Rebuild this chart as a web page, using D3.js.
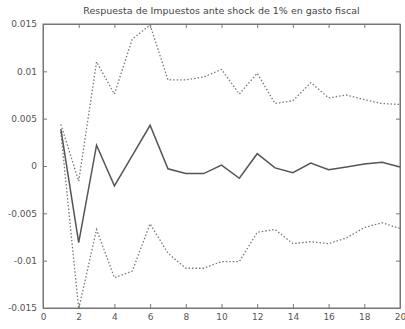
<!DOCTYPE html>
<html>
<head>
<meta charset="utf-8">
<script src="https://cdn.jsdelivr.net/npm/d3@7"></script>
<style>
  body { margin: 0; background: #fff; }
  text { font-family: "DejaVu Sans", sans-serif; fill: #555; }
</style>
</head>
<body>
<svg id="chart" width="405" height="329"></svg>
<script>
// Impulse response data (periods 1..20)
const periods = d3.range(1, 21);
const response = [0.0039, -0.0081, 0.0022, -0.0021, 0.0011, 0.0043, -0.0003, -0.0008, -0.0008, 0.0001,
                  -0.0013, 0.0013, -0.0002, -0.0007, 0.0003, -0.0004, -0.0001, 0.0002, 0.0004, -0.0001];
const upperBand = [0.0044, -0.0016, 0.0110, 0.0076, 0.0134, 0.0149, 0.0091, 0.0091, 0.0094, 0.0102,
                   0.0076, 0.0098, 0.0066, 0.0069, 0.0088, 0.0072, 0.0075, 0.0070, 0.0066, 0.0065];
const lowerBand = [0.0036, -0.0151, -0.0067, -0.0118, -0.0111, -0.0061, -0.0092, -0.0108, -0.0108, -0.0101,
                   -0.0101, -0.0070, -0.0067, -0.0082, -0.0080, -0.0082, -0.0076, -0.0065, -0.0060, -0.0066];
const xTicks = [0, 2, 4, 6, 8, 10, 12, 14, 16, 18, 20];
const yTicks = [-0.015, -0.01, -0.005, 0, 0.005, 0.01, 0.015];
const chartTitle = "Respuesta de Impuestos ante shock de 1% en gasto fiscal";

const svg = d3.select('#chart');
const margin = {left: 43, right: 5, top: 24, bottom: 21};
const W = 405, H = 329;

const x = d3.scaleLinear().domain([0, 20]).range([margin.left, W - margin.right]);
const y = d3.scaleLinear().domain([-0.015, 0.015]).range([H - margin.bottom, margin.top]);

const fmt = d => d === 0 ? '0' : String(+d.toFixed(3));

// Axes with inward ticks (MATLAB style)
svg.append('g').attr('transform', `translate(0,${y.range()[0]})`)
    .call(d3.axisBottom(x).tickValues(xTicks).tickSizeInner(-4).tickSizeOuter(0).tickPadding(6).tickFormat(fmt));
svg.append('g').attr('transform', `translate(0,${y.range()[1]})`)
    .call(d3.axisTop(x).tickValues(xTicks).tickSizeInner(-4).tickSizeOuter(0).tickFormat(''));
svg.append('g').attr('transform', `translate(${x.range()[0]},0)`)
    .call(d3.axisLeft(y).tickValues(yTicks).tickSizeInner(-4).tickSizeOuter(0).tickPadding(6).tickFormat(fmt));
svg.append('g').attr('transform', `translate(${x.range()[1]},0)`)
    .call(d3.axisRight(y).tickValues(yTicks).tickSizeInner(-4).tickSizeOuter(0).tickFormat(''));

svg.selectAll('.domain, .tick line').attr('stroke', '#777').attr('stroke-width', 1);
svg.selectAll('.tick text').style('font-size', '9px').style('fill', '#555');

svg.append('rect')
    .attr('x', x.range()[0]).attr('y', y.range()[1])
    .attr('width', x.range()[1] - x.range()[0])
    .attr('height', y.range()[0] - y.range()[1])
    .attr('fill', 'none').attr('stroke', '#777');

const line = d3.line().x(d => x(d[0])).y(d => y(d[1]));

// Confidence bands (dotted)
[upperBand, lowerBand].forEach(band => {
    svg.append('path')
        .datum(periods.map((p, i) => [p, band[i]]))
        .attr('d', line)
        .attr('fill', 'none')
        .attr('stroke', '#777')
        .attr('stroke-width', 1.3)
        .attr('stroke-dasharray', '1.5,2');
});

// Response (solid)
svg.append('path')
    .datum(periods.map((p, i) => [p, response[i]]))
    .attr('d', line)
    .attr('fill', 'none')
    .attr('stroke', '#555')
    .attr('stroke-width', 1.5);

svg.append('text')
    .attr('x', (x.range()[0] + x.range()[1]) / 2)
    .attr('y', 14)
    .attr('text-anchor', 'middle')
    .style('font-size', '9.5px')
    .style('fill', '#444')
    .text(chartTitle);
</script>
</body>
</html>
